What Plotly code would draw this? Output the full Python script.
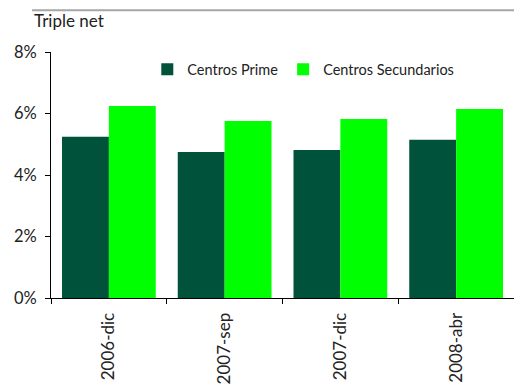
import plotly.graph_objects as go

categories = ["2006-dic", "2007-sep", "2007-dic", "2008-abr"]
prime = [5.24, 4.75, 4.81, 5.15]
secundarios = [6.24, 5.76, 5.82, 6.15]
y_ticks = [0, 2, 4, 6, 8]
y_tick_labels = ["0%", "2%", "4%", "6%", "8%"]

font_family = "Century Gothic, Lato, DejaVu Sans, sans-serif"

fig = go.Figure()
fig.add_trace(go.Bar(x=categories, y=prime, name="Centros Prime",
                     marker=dict(color="#01523B", line=dict(width=0))))
fig.add_trace(go.Bar(x=categories, y=secundarios, name="Centros Secundarios",
                     marker=dict(color="#00FF00", line=dict(width=0))))

fig.update_layout(
    width=514, height=387,
    margin=dict(l=51, r=0, t=52, b=89),
    paper_bgcolor="white", plot_bgcolor="white",
    font=dict(family=font_family, color="#222222", size=15),
    barmode="group", bargap=0.19, bargroupgap=0,
    showlegend=True,
    legend=dict(orientation="h", x=0.208, y=0.995, xanchor="left", yanchor="top",
                font=dict(size=14.5), itemwidth=30, traceorder="normal",
                bgcolor="rgba(0,0,0,0)"),
    annotations=[dict(text="Triple net", xref="paper", yref="paper",
                      x=-0.04, y=1.13, xanchor="left", yanchor="middle",
                      showarrow=False, font=dict(size=17, color="#222222"))],
    shapes=[dict(type="line", xref="paper", yref="paper", x0=-0.041, x1=1.0,
                 y0=1.17, y1=1.17, layer="above",
                 line=dict(color="#A6A6A6", width=2))],
)
fig.update_yaxes(range=[0, 8], tickvals=y_ticks, ticktext=y_tick_labels,
                 showgrid=False, zeroline=False, showline=True, linecolor="black",
                 linewidth=1, ticks="outside", ticklen=5, tickcolor="black",
                 ticklabelstandoff=5, tickfont=dict(size=16.5))
fig.update_xaxes(showgrid=False, showline=True, linecolor="black", linewidth=1,
                 ticks="outside", ticklen=5, tickcolor="black",
                 tickson="boundaries", tickangle=-90, ticklabelstandoff=7,
                 tickfont=dict(size=17))

fig.write_html("out.html")
